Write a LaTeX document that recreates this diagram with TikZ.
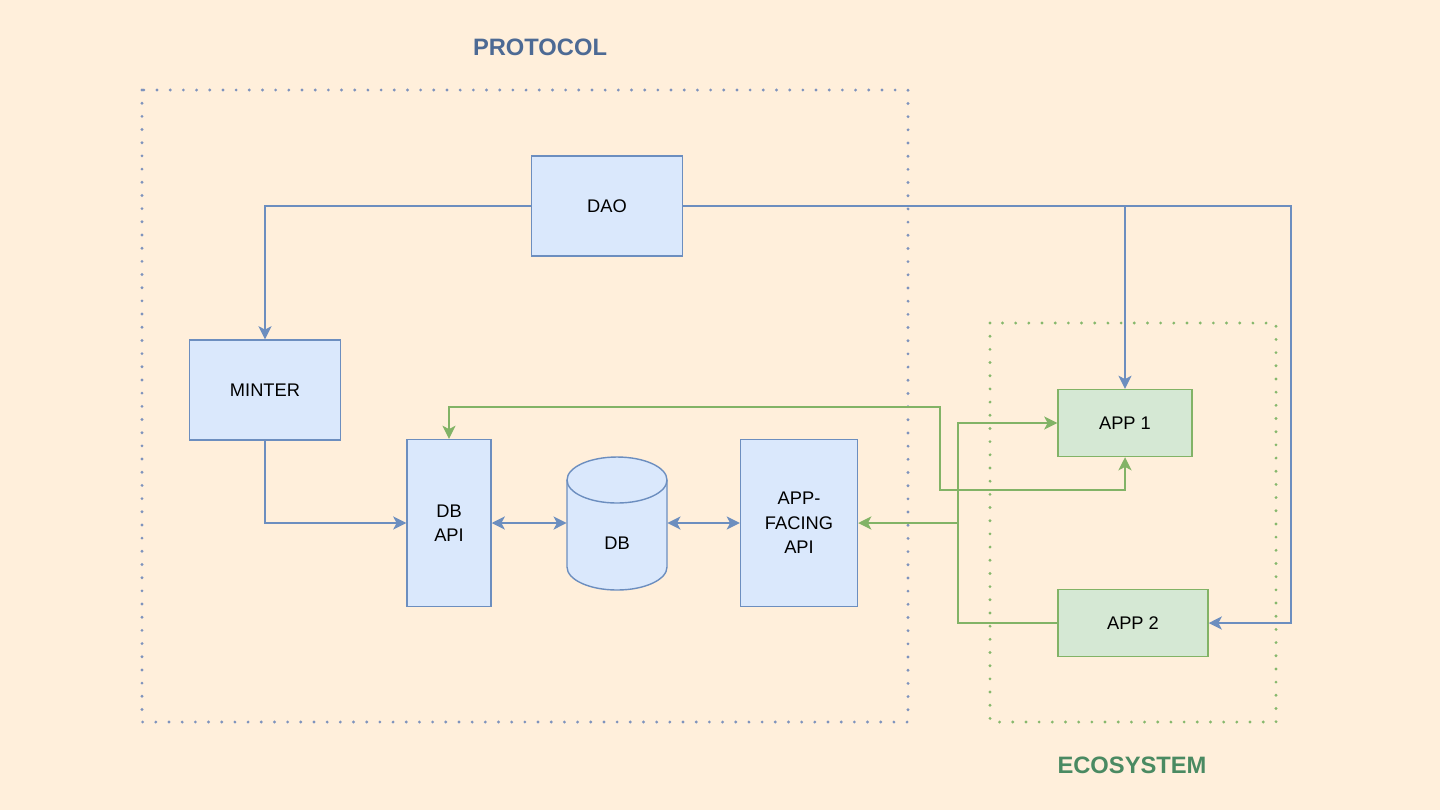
\documentclass[tikz,border=0pt]{standalone}
\usepackage{fontspec}
\setmainfont{Liberation Sans}
\usetikzlibrary{arrows.meta}
\definecolor{paper}{RGB}{255,239,219}
\definecolor{bluefill}{HTML}{DAE8FC}
\definecolor{blueline}{HTML}{6C8EBF}
\definecolor{greenfill}{HTML}{D5E8D4}
\definecolor{greenline}{HTML}{82B366}
\definecolor{prototext}{HTML}{4D6A94}
\definecolor{ecotext}{HTML}{4A8A62}
\definecolor{protodots}{HTML}{7E93BD}
\definecolor{ecodots}{HTML}{86B86C}
\tikzset{
  bluebox/.style={draw=blueline,fill=bluefill,line width=0.8pt,align=center,
    font=\fontsize{10.4}{14}\selectfont},
  greenbox/.style={draw=greenline,fill=greenfill,line width=0.8pt,align=center,
    font=\fontsize{10.4}{14}\selectfont},
  bluewire/.style={draw=blueline,line width=0.8pt},
  greenwire/.style={draw=greenline,line width=0.8pt},
  dotbox/.style={line width=1.8pt,line cap=round,dash pattern=on 0pt off 7.5pt},
  title/.style={font=\fontsize{13.5}{16}\selectfont\bfseries}
}

\begin{document}
\begin{tikzpicture}[x=0.2mm,y=0.2mm,>={Stealth[length=7.5pt,width=7.5pt,inset=2pt]}]
\useasboundingbox (0,0) rectangle (1440,-810);
\fill[paper] (0,0) rectangle (1440,-810);
% groups
\draw[dotbox,protodots] (142,-90) rectangle (908,-722);
\draw[dotbox,ecodots] (990,-323) rectangle (1276,-722);
\node[title,text=prototext] (protocol) at (540,-47) {PROTOCOL};
\node[title,text=ecotext] (ecosystem) at (1132,-765) {ECOSYSTEM};
% protocol side
\node[bluebox,minimum width=3.02cm,minimum height=2cm] (dao) at (607,-206) {DAO};
\node[bluebox,minimum width=3.02cm,minimum height=2cm] (minter) at (265,-390) {MINTER};
\node[bluebox,minimum width=1.68cm,minimum height=3.34cm] (dbapi) at (449,-523) {DB\\API};
\node[bluebox,minimum width=2.34cm,minimum height=3.34cm] (facing) at (799,-523) {APP-\\FACING\\API};
\node[minimum width=2cm,minimum height=2.66cm,inner sep=0pt] (db) at (617,-523) {};
\filldraw[bluewire,fill=bluefill] (567,-480) -- (567,-567) arc(180:360:1cm and 0.46cm) -- (667,-480) arc(0:180:1cm and 0.46cm);
\draw[bluewire] (567,-480) arc(180:360:1cm and 0.46cm);
\node[font=\fontsize{10.4}{14}\selectfont] (dblabel) at (617,-543) {DB};
% ecosystem side
\node[greenbox,minimum width=2.68cm,minimum height=1.34cm] (app1) at (1125,-423) {APP 1};
\node[greenbox,minimum width=3cm,minimum height=1.34cm] (app2) at (1133,-623) {APP 2};
\coordinate (bend) at (1291,-206);
\coordinate (gx) at (958,-623);
\coordinate (gy) at (958,-523);
\coordinate (g1) at (940,-407);
\coordinate (g2) at (940,-490);
% wires
\draw[bluewire,->] (dao.west) -| (minter.north);
\draw[bluewire,->] (dao.east) -| (app1.north);
\draw[bluewire,->] (dao.east) -- (bend) |- (app2.east);
\draw[bluewire,->] (minter.south) |- (dbapi.west);
\draw[bluewire,<->] (dbapi.east) -- (db.west);
\draw[bluewire,<->] (db.east) -- (facing.west);
\draw[greenwire,->] (app2.west) -- (gx) |- (app1.west);
\draw[greenwire,->] (gy) -- (facing.east);
\draw[greenwire,<->] (dbapi.north) |- (g1) -- (g2) -| (app1.south);
\end{tikzpicture}
\end{document}
